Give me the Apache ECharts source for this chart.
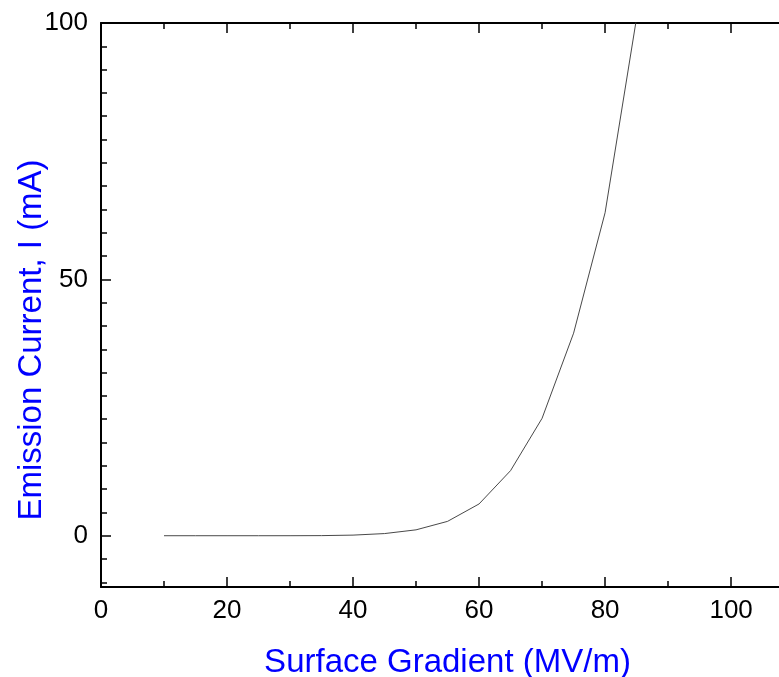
<!DOCTYPE html>
<html>
<head>
<meta charset="utf-8">
<script src="https://cdn.jsdelivr.net/npm/echarts@6/dist/echarts.min.js"></script>
<style>
  html, body { margin: 0; padding: 0; background: #fff; }
  #chart { width: 779px; height: 677px; }
</style>
</head>
<body>
<div id="chart"></div>
<script>
// Data
const gradient = [10, 15, 20, 25, 30, 35, 40, 45, 50, 55, 60, 65, 70, 75, 80, 85];
const current  = [0, 0, 0, 0, 0.002, 0.02, 0.12, 0.42, 1.15, 2.8, 6.2, 12.7, 22.9, 39.5, 63, 101];

// Tick labels / tick positions
const xMajorTicks = [0, 20, 40, 60, 80, 100];
const xMinorTicks = [10, 30, 50, 70, 90];
const yMajorTicks = [0, 50, 100];
const yMinorTicks = [];
for (let k = -2; k <= 22; k++) {
  if (k % 11 !== 0) yMinorTicks.push(k * 50 / 11);
}

const X_MIN = 0, X_MAX = 107.6;
const Y_MIN = -10, Y_MAX = 100;

const lineStyleAxis = { color: '#000', width: 2 };
const labelFont = { fontFamily: 'Liberation Sans', fontSize: 26, color: '#000' };

function xAxisDef(pos, ticks, len, showLine, labels) {
  return {
    type: 'value', position: pos, min: X_MIN, max: X_MAX,
    axisLine: { show: showLine, onZero: false, lineStyle: lineStyleAxis },
    axisTick: { show: true, inside: true, length: len, customValues: ticks,
                lineStyle: { color: '#000', width: 1.5 } },
    axisLabel: labels ? Object.assign({ show: true, margin: 11, customValues: labels }, labelFont)
                      : { show: false },
    splitLine: { show: false },
    minorTick: { show: false }
  };
}
function yAxisDef(ticks, len, showLine, labels) {
  return {
    type: 'value', position: 'left', min: Y_MIN, max: Y_MAX,
    axisLine: { show: showLine, onZero: false, lineStyle: lineStyleAxis },
    axisTick: { show: true, inside: true, length: len, customValues: ticks,
                lineStyle: { color: '#000', width: 1.5 } },
    axisLabel: labels ? Object.assign({ show: true, margin: 13, customValues: labels }, labelFont)
                      : { show: false },
    splitLine: { show: false },
    minorTick: { show: false }
  };
}

const xMain = xAxisDef('bottom', xMajorTicks, 10, true, xMajorTicks);
xMain.name = 'Surface Gradient (MV/m)';
xMain.nameLocation = 'middle';
xMain.nameGap = 59;
xMain.nameMoveOverlap = false;
xMain.nameTextStyle = { fontFamily: 'Liberation Sans', fontSize: 33, color: '#0000ff', padding: [0, 0, 0, 15] };

const yMain = yAxisDef(yMajorTicks, 10, true, yMajorTicks);
yMain.name = 'Emission Current, I (mA)';
yMain.nameLocation = 'middle';
yMain.nameGap = 53;
yMain.nameMoveOverlap = false;
yMain.nameTextStyle = { fontFamily: 'Liberation Sans', fontSize: 33, color: '#0000ff', padding: [0, 70, 0, 0] };

const chart = echarts.init(document.getElementById('chart'), null, { renderer: 'canvas' });
chart.setOption({
  animation: false,
  backgroundColor: '#fff',
  grid: { left: 101, right: 0, top: 23, bottom: 90, containLabel: false, outerBoundsMode: 'none' },
  xAxis: [
    xMain,
    xAxisDef('bottom', xMinorTicks, 6, false, null),
    xAxisDef('top', xMajorTicks, 10, true, null),
    xAxisDef('top', xMinorTicks, 6, false, null)
  ],
  yAxis: [
    yMain,
    yAxisDef(yMinorTicks, 6, false, null)
  ],
  series: [{
    type: 'line',
    xAxisIndex: 0, yAxisIndex: 0,
    data: gradient.map((g, i) => [g, current[i]]),
    showSymbol: false,
    symbol: 'none',
    clip: true,
    lineStyle: { color: '#333', width: 0.9 }
  }]
});
</script>
</body>
</html>
